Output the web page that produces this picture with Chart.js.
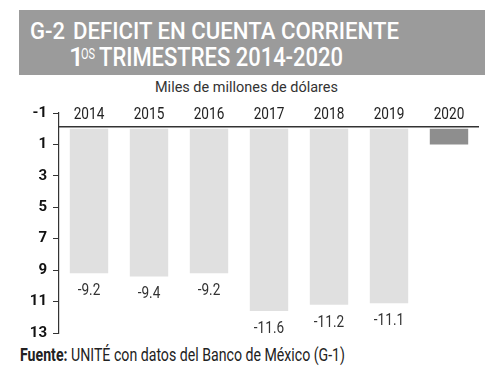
<!DOCTYPE html>
<html>
<head>
<meta charset="utf-8">
<script src="https://cdn.jsdelivr.net/npm/chart.js@4/dist/chart.umd.min.js"></script>
<style>
  html, body { margin:0; padding:0; background:#fff; }
  #wrap { position:relative; width:500px; height:370px; overflow:hidden; }
  #band { position:absolute; left:19px; top:10px; width:466px; height:65px; background:#9b9b9b; }
  .t { position:absolute; color:#fff; font-family:Roboto, sans-serif; font-weight:500; white-space:nowrap; transform-origin:0 0; line-height:1; }
  .s { position:absolute; font-family:Roboto, sans-serif; white-space:nowrap; transform-origin:0 0; line-height:1; }
  canvas { position:absolute; left:0; top:0; }
</style>
</head>
<body>
<div id="wrap">
  <div id="band"></div>
  <div class="t" id="t1a" style="left:30px; top:19px; font-size:24px;">G-2</div>
  <div class="t" id="t1b" style="left:73px; top:19px; font-size:24px;">DEFICIT EN CUENTA CORRIENTE</div>
  <div class="t" id="t2a" style="left:69px; top:44px; font-size:26px;">1</div>
  <div class="t" id="t2s" style="left:81px; top:47px; font-size:14px; font-weight:400;">OS</div>
  <div class="t" id="t2b" style="left:99px; top:44px; font-size:26px;">TRIMESTRES 2014-2020</div>
  <div class="s" id="sub" style="left:155px; top:80px; font-size:15px; color:#333;">Miles de millones de dólares</div>
  <div class="s" id="foot" style="left:20px; top:346px; font-size:18px; color:#222;"><b style="font-weight:700;">Fuente:</b> UNITÉ con datos del Banco de México (G-1)</div>
  <canvas id="c" width="500" height="370"></canvas>
</div>
<script>
const categories = ['2014','2015','2016','2017','2018','2019','2020'];
const values = [-9.2, -9.4, -9.2, -11.6, -11.2, -11.1, -1.0];
const valueLabels = ['-9.2','-9.4','-9.2','-11.6','-11.2','-11.1',''];
const barColors = ['#e0e0e0','#e0e0e0','#e0e0e0','#e0e0e0','#e0e0e0','#e0e0e0','#8e8e8e'];
const yTickValues = [1, -1, -3, -5, -7, -9, -11, -13];
const yTickLabels = ['-1','1','3','5','7','9','11','13'];

function fit(id, target) {
  const el = document.getElementById(id);
  const w = el.getBoundingClientRect().width;
  el.style.transform = 'scaleX(' + (target / w) + ')';
}
fit('t1a', 35); fit('t1b', 326); fit('t2s', 14); fit('t2b', 244); fit('sub', 183); fit('foot', 325);

const SQ = 0.85; // horizontal condensing of canvas labels
function condensedText(ctx, txt, x, y) {
  const w = ctx.measureText(txt).width;
  ctx.fillText(txt, x, y, w * SQ);
}

const overlay = {
  id: 'overlay',
  afterDatasetsDraw(chart) {
    const ctx = chart.ctx, x = chart.scales.x, y = chart.scales.y, a = chart.chartArea;
    ctx.save();
    const y0 = y.getPixelForValue(0);
    ctx.strokeStyle = '#333'; ctx.lineWidth = 1.5;
    ctx.beginPath(); ctx.moveTo(a.left, y0 - 2); ctx.lineTo(a.right, y0 - 2); ctx.stroke();
    ctx.fillStyle = '#222';
    ctx.font = '16px Roboto, sans-serif';
    ctx.textAlign = 'center'; ctx.textBaseline = 'middle';
    categories.forEach((c, i) => {
      condensedText(ctx, c, x.getPixelForValue(i), y.getPixelForValue(0.9));
    });
    ctx.fillStyle = '#333';
    chart.getDatasetMeta(0).data.forEach((bar, i) => {
      if (!valueLabels[i]) return;
      condensedText(ctx, valueLabels[i], bar.x, bar.y + 18);
    });
    ctx.restore();
  }
};

new Chart(document.getElementById('c'), {
  type: 'bar',
  data: {
    labels: categories,
    datasets: [{
      data: values,
      backgroundColor: barColors,
      borderWidth: 0,
      barPercentage: 0.64,
      categoryPercentage: 1.0
    }]
  },
  options: {
    responsive: false,
    animation: false,
    layout: { padding: { left: 0, top: 113, right: 21, bottom: 37 } },
    plugins: { legend: { display: false }, tooltip: { enabled: false } },
    scales: {
      x: { display: false },
      y: {
        min: -13, max: 1,
        afterBuildTicks: (s) => { s.ticks = yTickValues.map(v => ({ value: v })); },
        afterFit: (s) => { s.width = 59; },
        border: { display: true, color: '#333', width: 1.2 },
        grid: { drawOnChartArea: false, drawTicks: true, tickLength: 6, color: '#333', lineWidth: 1 },
        ticks: {
          padding: 6,
          color: '#111',
          font: { family: 'Roboto, sans-serif', size: 15, weight: 'bold' },
          callback: (v) => yTickLabels[yTickValues.indexOf(v)]
        }
      }
    }
  },
  plugins: [overlay]
});
</script>
</body>
</html>
